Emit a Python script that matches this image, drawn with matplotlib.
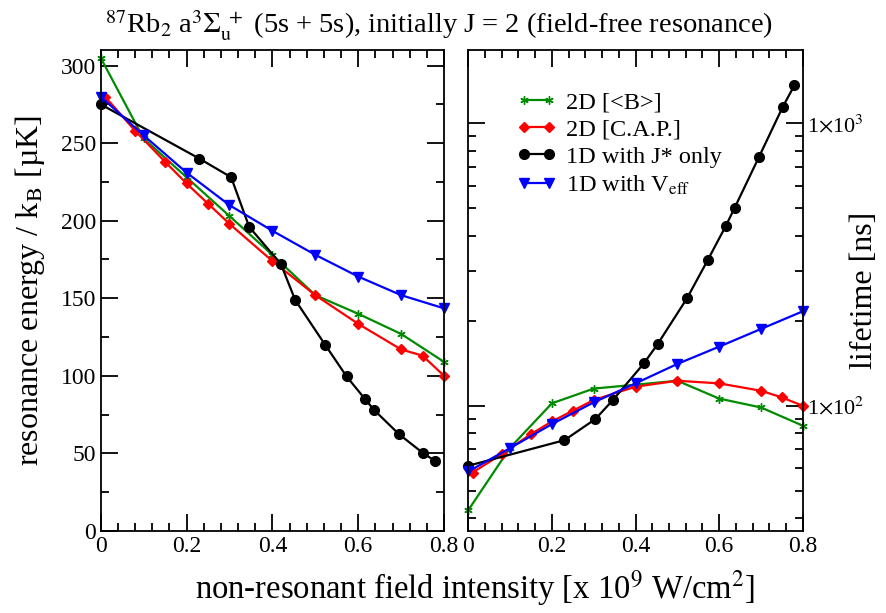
import matplotlib
matplotlib.use("Agg")
import matplotlib.pyplot as plt
from matplotlib.ticker import MultipleLocator, FixedLocator, FixedFormatter, LogLocator, NullFormatter

plt.rcParams['font.family'] = ['Liberation Serif', 'DejaVu Serif']
plt.rcParams['mathtext.fontset'] = 'stix'

# field intensity (x 1e9 W/cm^2)
x_B = [0.0, 0.1, 0.2, 0.3, 0.4, 0.5, 0.6, 0.7, 0.8]
x_cap = [0.01, 0.08, 0.15, 0.2, 0.25, 0.3, 0.4, 0.5, 0.6, 0.7, 0.75, 0.8]
x_J = [0.0, 0.23, 0.304, 0.346, 0.42, 0.453, 0.523, 0.573, 0.616, 0.637, 0.695, 0.752, 0.78]
x_V = [0.0, 0.1, 0.2, 0.3, 0.4, 0.5, 0.6, 0.7, 0.8]

# resonance energy / kB (muK)
E_B = [305, 253, 228, 203, 178, 152, 140, 127, 109]
E_cap = [280, 258, 238, 224, 211, 198, 174, 152, 133.5, 117, 113, 100]
E_J = [275, 240, 228, 196, 172, 149, 120, 99.6, 85, 78, 62.4, 50, 45]
E_V = [280, 255, 231, 210, 193.5, 178, 164, 152, 143.5]

# lifetime (ns)
T_B = [42.7, 71, 102, 115, 118.7, 122.6, 106, 98.6, 85]
T_cap = [58, 67.4, 79.4, 88, 96, 104.8, 116.8, 122.6, 120, 113, 107, 100]
T_J = [61.3, 75.5, 89.7, 104.8, 141.3, 165.4, 240, 328.6, 433.6, 502, 759, 1143, 1364]
T_V = [58.5, 70.8, 86.1, 102.8, 120, 140.6, 161.9, 187, 216]

fig = plt.figure(figsize=(8.87, 6.13), dpi=100)
ax1 = fig.add_axes([0.1135, 0.1338, 0.3871, 0.7846])
ax2 = fig.add_axes([0.528, 0.1338, 0.377, 0.7846])

green = '#008b00'
star = (6, 2, 0)
series = [
    (x_B, E_B, T_B, green, star, 6, '2D [<B>]'),
    (x_cap, E_cap, T_cap, 'red', 'D', 5, '2D [C.A.P.]'),
    (x_J, E_J, T_J, 'black', 'o', 7, '1D with J* only'),
    (x_V, E_V, T_V, 'blue', 'v', 7, r'1D with V$_{\rm eff}$'),
]
for xs, es, ts, c, m, ms, lab in series:
    ax1.plot(xs, es, color=c, marker=m, ms=ms, lw=1.6, mew=1.0, label=lab, clip_on=False)
    ax2.plot(xs, ts, color=c, marker=m, ms=ms, lw=1.6, mew=1.0, label=lab, clip_on=False)

ticks_x = [0, 0.2, 0.4, 0.6, 0.8]
ticklabels_x = ['0', '0.2', '0.4', '0.6', '0.8']

ax1.set_xlim(0, 0.8)
ax1.set_ylim(0, 310)
ax1.set_xticks(ticks_x)
ax1.set_xticklabels(ticklabels_x)
ax1.xaxis.set_minor_locator(MultipleLocator(0.04))
ax1.yaxis.set_major_locator(MultipleLocator(50))
ax1.yaxis.set_minor_locator(MultipleLocator(25))
ax1.set_ylabel('resonance energy / k$_{\\rm B}$ [µK]', fontsize=23)
ax1.yaxis.set_label_coords(-0.155, 0.5)

ax2.set_yscale('log')
ax2.set_xlim(0, 0.8)
ax2.set_ylim(36, 1820)
ax2.set_xticks(ticks_x)
ax2.set_xticklabels(ticklabels_x)
ax2.xaxis.set_minor_locator(MultipleLocator(0.04))
ax2.yaxis.set_major_locator(FixedLocator([100, 1000]))
ax2.yaxis.set_major_formatter(FixedFormatter([r'1$\times$10$^2$', r'1$\times$10$^3$']))
ax2.yaxis.set_minor_locator(LogLocator(base=10, subs=range(2, 10)))
ax2.yaxis.set_minor_formatter(NullFormatter())
ax2.yaxis.set_label_position('right')
ax2.set_ylabel('lifetime [ns]', fontsize=23)
ax2.yaxis.set_label_coords(1.14, 0.5)

for ax in (ax1, ax2):
    ax.tick_params(which='both', direction='in', top=True, right=True, labelsize=17, width=1.3)
    ax.tick_params(which='major', length=12)
    ax.tick_params(which='minor', length=6)
    for s in ax.spines.values():
        s.set_linewidth(1.3)
ax2.tick_params(axis='y', which='both', labelleft=False, labelright=True, labelsize=16, pad=3)

ax2.legend(loc='upper left', bbox_to_anchor=(0.08, 0.96), frameon=False, fontsize=17.5,
           numpoints=2, handlelength=1.6, handletextpad=0.4, labelspacing=0.22)

fig.text(0.495, 0.958,
         r'$^{87}$Rb$_2$ a$^3\Sigma_{\mathrm{u}}^{\ +}$ (5s + 5s), initially J = 2 (field-free resonance)',
         ha='center', va='center', fontsize=20.5)
fig.text(0.535, 0.04, r'non-resonant field intensity [x 10$^9$ W/cm$^2$]', ha='center', va='center',
         fontsize=23.5)

fig.savefig('out.png', dpi=100)
